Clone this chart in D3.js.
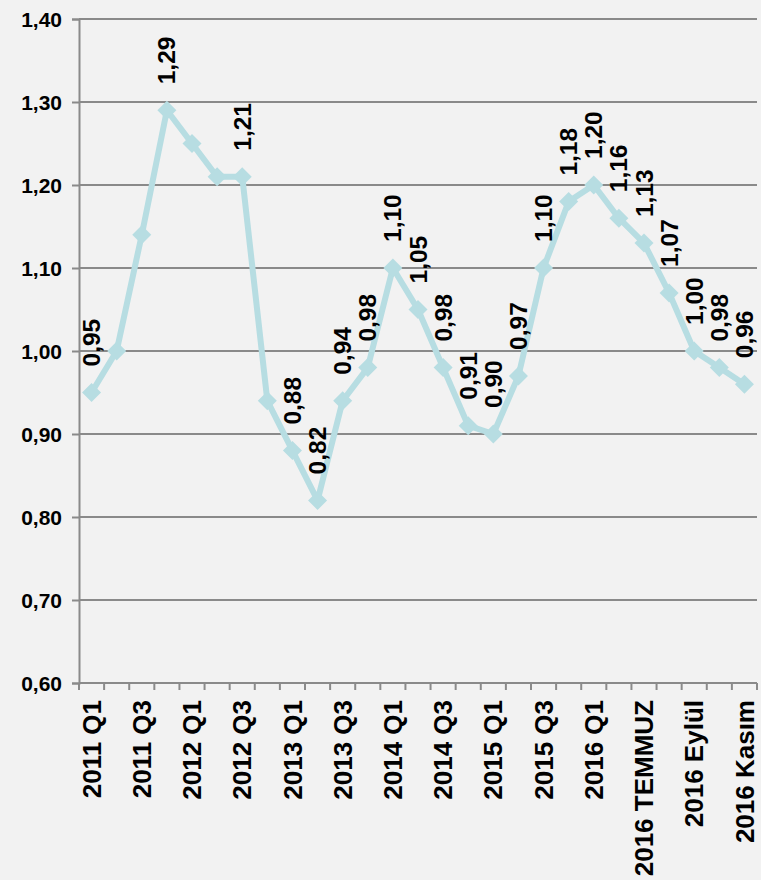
<!DOCTYPE html>
<html>
<head>
<meta charset="utf-8">
<script src="https://cdn.jsdelivr.net/npm/d3@7/dist/d3.min.js"></script>
<style>
  html, body { margin: 0; padding: 0; background: #f2f2f2; }
  svg { display: block; }
  text { font-family: "Liberation Sans", Arial, sans-serif; font-weight: bold; fill: #000; }
</style>
</head>
<body>
<svg id="chart" width="761" height="880"></svg>
<script>
const categories = [
  "2011 Q1","2011 Q2","2011 Q3","2011 Q4",
  "2012 Q1","2012 Q2","2012 Q3","2012 Q4",
  "2013 Q1","2013 Q2","2013 Q3","2013 Q4",
  "2014 Q1","2014 Q2","2014 Q3","2014 Q4",
  "2015 Q1","2015 Q2","2015 Q3","2015 Q4",
  "2016 Q1","2016 Q2","2016 TEMMUZ","2016 AĞUSTOS",
  "2016 Eylül","2016 Ekim","2016 Kasım"
];
const values = [
  0.95, 1.00, 1.14, 1.29,
  1.25, 1.21, 1.21, 0.94,
  0.88, 0.82, 0.94, 0.98,
  1.10, 1.05, 0.98, 0.91,
  0.90, 0.97, 1.10, 1.18,
  1.20, 1.16, 1.13, 1.07,
  1.00, 0.98, 0.96
];
const shownTickLabels = [
  "2011 Q1","2011 Q3","2012 Q1","2012 Q3","2013 Q1","2013 Q3","2014 Q1",
  "2014 Q3","2015 Q1","2015 Q3","2016 Q1","2016 TEMMUZ","2016 Eylül","2016 Kasım"
];
const hiddenValueLabels = ["2011 Q2","2011 Q3","2012 Q1","2012 Q2","2012 Q4"];
const yTicks = [0.6, 0.7, 0.8, 0.9, 1.0, 1.1, 1.2, 1.3, 1.4];

(function () {
const data = categories.map((c, i) => ({ cat: c, val: values[i] }));
const trFmt = d3.formatLocale({ decimal: ",", thousands: ".", grouping: [3], currency: ["", ""] }).format(".2f");

const svg = d3.select("#chart");
const mLeft = 79, mRight = 757, mTop = 19, mBottom = 683;
const gridColor = "#8a8a8a";
const lineColor = "#b7dde2";

const x = d3.scaleBand().domain(categories).range([mLeft, mRight]).padding(0);
const y = d3.scaleLinear().domain([0.6, 1.4]).range([mBottom, mTop]);
const cx = d => x(d) + x.bandwidth() / 2;

// gridlines
svg.append("g").selectAll("line").data(yTicks).join("line")
  .attr("x1", mLeft).attr("x2", mRight)
  .attr("y1", d => y(d)).attr("y2", d => y(d))
  .attr("stroke", gridColor).attr("stroke-width", 2);

// y axis
const yAxis = svg.append("g").attr("transform", `translate(${mLeft},0)`)
  .call(d3.axisLeft(y).tickValues(yTicks).tickFormat(trFmt).tickSize(7).tickPadding(10));
yAxis.attr("font-family", null).attr("font-size", null);
yAxis.select(".domain").attr("stroke", gridColor).attr("stroke-width", 2);
yAxis.selectAll(".tick line").attr("stroke", gridColor).attr("stroke-width", 2);
yAxis.selectAll(".tick text").attr("font-size", 21).attr("fill", "#000").attr("dy", "0.35em");

// x axis line
svg.append("line").attr("x1", mLeft).attr("x2", mRight).attr("y1", mBottom).attr("y2", mBottom)
  .attr("stroke", gridColor).attr("stroke-width", 2);

// x tick marks at band boundaries
const boundaries = categories.map(c => x(c)).concat([x(categories[categories.length - 1]) + x.bandwidth()]);
svg.append("g").selectAll("line").data(boundaries).join("line")
  .attr("x1", d => d).attr("x2", d => d)
  .attr("y1", mBottom).attr("y2", mBottom + 7)
  .attr("stroke", gridColor).attr("stroke-width", 2);

// x labels
svg.append("g").selectAll("text").data(shownTickLabels).join("text")
  .attr("transform", d => `translate(${cx(d)},${mBottom + 17}) rotate(-90)`)
  .attr("text-anchor", "end")
  .attr("dy", "0.35em")
  .attr("font-size", 26)
  .text(d => d);

// line
const line = d3.line().x(d => cx(d.cat)).y(d => y(d.val));
svg.append("path").datum(data)
  .attr("d", line)
  .attr("fill", "none")
  .attr("stroke", lineColor)
  .attr("stroke-width", 6)
  .attr("stroke-linejoin", "round");

// diamond markers
const r = 9.5;
svg.append("g").selectAll("path").data(data).join("path")
  .attr("transform", d => `translate(${cx(d.cat)},${y(d.val)})`)
  .attr("d", `M0,${-r}L${r},0L0,${r}L${-r},0Z`)
  .attr("fill", lineColor);

// value labels
svg.append("g").selectAll("text")
  .data(data.filter(d => !hiddenValueLabels.includes(d.cat)))
  .join("text")
  .attr("transform", d => `translate(${cx(d.cat)},${y(d.val) - 26}) rotate(-90)`)
  .attr("text-anchor", "start")
  .attr("dy", "0.35em")
  .attr("font-size", 24.5)
  .text(d => trFmt(d.val));
})();
</script>
</body>
</html>
